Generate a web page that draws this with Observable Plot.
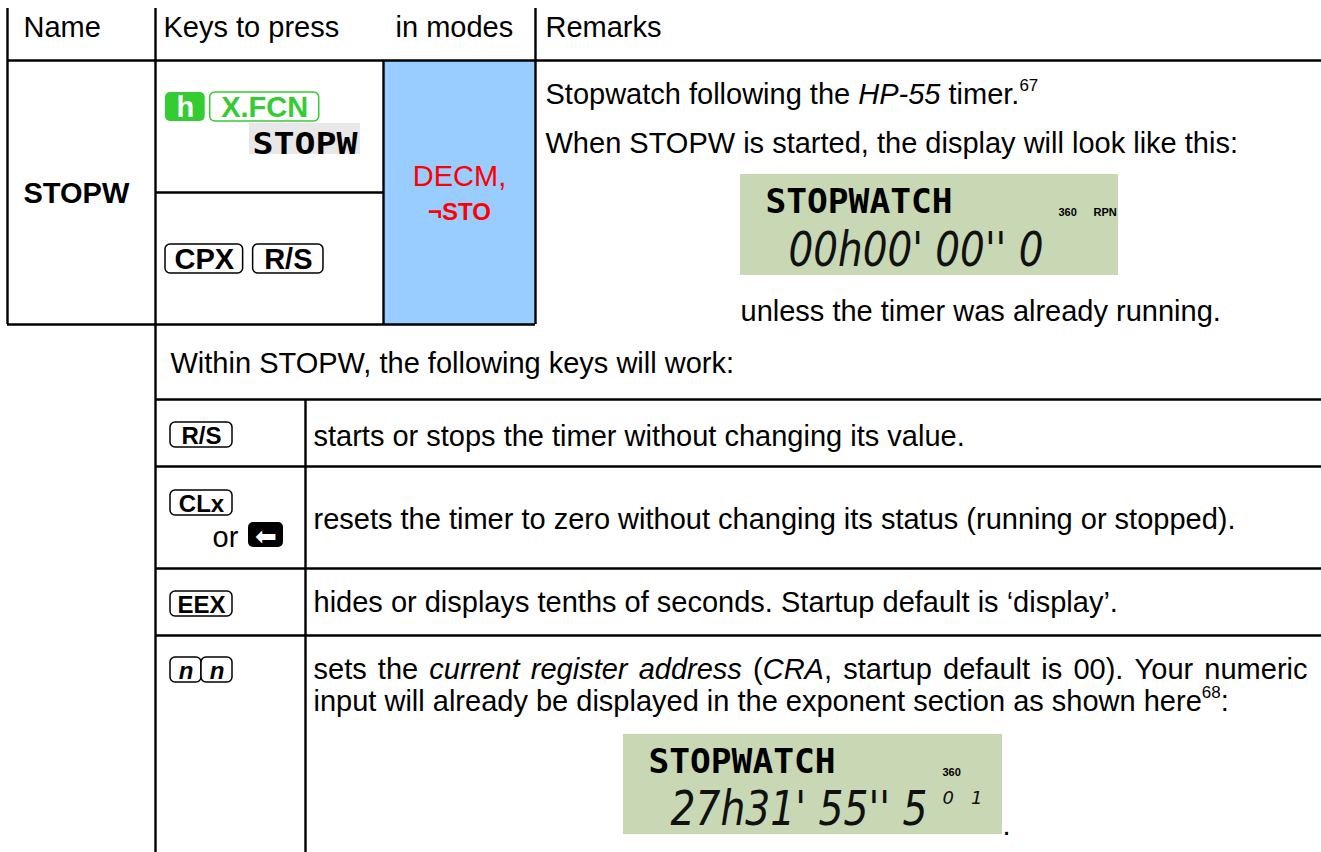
<!DOCTYPE html>
<html><head><meta charset="utf-8">
<script src="https://cdn.jsdelivr.net/npm/d3@7"></script>
<script src="https://cdn.jsdelivr.net/npm/@observablehq/plot@0.6"></script>
<style>
html,body{margin:0;padding:0;background:#fff;}
#chart{width:1321px;height:852px;overflow:hidden;}
</style>
</head><body><div id="chart"></div>
<script>
// ---------------- content ----------------
const headers = ["Name", "Keys to press", "in modes", "Remarks"];
const functionName = ["STOPW"];
const keyRow1 = ["h", "X.FCN"];
const keyRow1Menu = ["STOPW"];
const keyRow2 = ["CPX", "R/S"];
const modeLines = ["DECM,", "¬STO"];
const remarkRuns1 = [["Stopwatch following the ", "n"], ["HP-55", "i"], [" timer.", "n"], ["67", "sup"]];
const remarkLine2 = ["When STOPW is started, the display will look like this:"];
const remarkLine3 = ["unless the timer was already running."];
const lcd1Top = ["STOPWATCH"];
const lcd1Annunciators = ["360", "RPN"];
const lcd1Digits = ["00h00' 00'' 0"];
const withinLine = ["Within STOPW, the following keys will work:"];
const subKeys = ["R/S", "CLx", "EEX", "n"];
const subOr = ["or"];
const backspaceGlyph = ["⬅"];
const subLines = [
  "starts or stops the timer without changing its value.",
  "resets the timer to zero without changing its status (running or stopped).",
  "hides or displays tenths of seconds. Startup default is ‘display’."
];
const subRuns4a = [["sets the ", "n"], ["current register address", "i"], [" (", "n"], ["CRA", "i"], [", startup default is 00). Your numeric", "n"]];
const subRuns4b = [["input will already be displayed in the exponent section as shown here", "n"], ["68", "sup"], [":", "n"]];
const lcd2Top = ["STOPWATCH"];
const lcd2Annunciators = ["360"];
const lcd2Digits = ["27h31' 55'' 5"];
const lcd2Exponent = ["01"];

// ---------------- layout ----------------
const W = 1321, H = 852;
const SANS = "'Liberation Sans', Arial, Helvetica, sans-serif";
const DOT = "'DejaVu Sans Mono', monospace";
const SEG = "'DejaVu Sans', sans-serif";
const BASE = 29;
const GREEN = "#33cc33", RED = "#ff0000", BLUE = "#99ccff", LCD = "#c8d7b4";
const X = {left: 7, name: 155, modes: 383, remarks: 535, right: W, sub: 305};
const Y = {top: 8, head: 60, split: 192, rowEnd: 324, within: 399, r1: 466, r2: 568, r3: 635, bottom: H};

const ctx = document.createElement("canvas").getContext("2d");
function tw(str, size, weight = "normal", style = "normal", family = SANS) {
  ctx.font = `${style} ${weight} ${size}px ${family}`;
  return ctx.measureText(str).width;
}

const texts = [];
const rects = [];
const stretch = new Map(); // text -> {length, adjust, scaleY, y}
function T(o) {
  texts.push(Object.assign({size: BASE, weight: "normal", style: "normal", family: SANS, fill: "#000", anchor: "start"}, o));
  if (o.length || o.scaleY) stretch.set(o.text, {length: o.length, adjust: o.adjust || "spacingAndGlyphs", scaleY: o.scaleY, y: o.y});
}
function R(o) { rects.push(Object.assign({fill: "none", stroke: "none", sw: 0, rx: 0}, o)); }

function runs(rs, x0, y, size, justifyWidth) {
  const words = []; let cur = [];
  for (const [t, st] of rs) {
    for (const p of t.split(/( )/)) {
      if (p === " ") { if (cur.length) { words.push(cur); cur = []; } }
      else if (p) cur.push({t: p, st});
    }
  }
  if (cur.length) words.push(cur);
  const ps = p => p.st === "sup" ? Math.round(size * 0.6) : size;
  const pst = p => p.st === "i" ? "italic" : "normal";
  const pw = p => tw(p.t, ps(p), "normal", pst(p));
  const wordW = words.map(w => d3.sum(w, pw));
  let gap = tw(" ", size);
  if (justifyWidth) gap = (justifyWidth - d3.sum(wordW)) / (words.length - 1);
  let x = x0;
  words.forEach(w => {
    for (const p of w) {
      T({x, y: p.st === "sup" ? y - size * 0.42 : y, text: p.t, size: ps(p), style: pst(p)});
      x += pw(p);
    }
    x += gap;
  });
}

function key(label, x, y, h, size, opts = {}) {
  const {w = null, pad = 11, kind = "outline", color = "#000", style = "normal", family = SANS} = opts;
  const width = w ?? tw(label, size, "bold", style, family) + 2 * pad;
  if (kind === "filled") R({x1: x, x2: x + width, y1: y, y2: y + h, fill: color, rx: 5});
  else R({x1: x, x2: x + width, y1: y, y2: y + h, fill: "#fff", stroke: color, sw: 1.5, rx: 5});
  T({x: x + width / 2, y: y + h / 2 + size * 0.36, text: label, size, weight: "bold", style, family,
     fill: kind === "filled" ? "#fff" : color, anchor: "middle"});
  return x + width;
}

// header
const headX = [X.left + 16, X.name + 8, X.modes + 12, X.remarks + 10];
headers.forEach((h, i) => T({x: headX[i], y: 36, text: h}));

// name
T({x: X.left + 16, y: 202, text: functionName[0], weight: "bold"});

// keys row 1
let kx = key(keyRow1[0], X.name + 10, 92, 29, 29, {kind: "filled", color: GREEN, pad: 11});
key(keyRow1[1], kx + 5, 92, 29, 29, {color: GREEN, pad: 11});
{
  const mx = X.name + 94, mw = X.modes - 23 - mx;
  R({x1: mx, x2: mx + mw, y1: 123, y2: 154, fill: "#e8e8e8"});
  T({x: mx + mw / 2, y: 153, text: keyRow1Menu[0], size: 30, weight: "bold", family: DOT, anchor: "middle", length: mw - 6});
}
// keys row 2
kx = key(keyRow2[0], X.name + 10, 244, 29, 29, {pad: 9});
key(keyRow2[1], kx + 10, 244, 29, 29, {pad: 11});

// modes
R({x1: X.modes, x2: X.remarks, y1: Y.head, y2: Y.rowEnd, fill: BLUE});
const mc = (X.modes + X.remarks) / 2;
T({x: mc, y: 185, text: modeLines[0], fill: RED, anchor: "middle"});
T({x: mc, y: 219, text: modeLines[1], size: 24, weight: "bold", fill: RED, anchor: "middle"});

// remarks
runs(remarkRuns1, X.remarks + 10, 103, BASE);
T({x: X.remarks + 10, y: 152, text: remarkLine2[0]});
function lcd(x1, y1, x2, y2, top, ann, annX, digits, digitsX, digitsW, expo) {
  R({x1, x2, y1, y2, fill: LCD});
  T({x: x1 + 25, y: y1 + 38, text: top, size: 33, weight: "bold", family: DOT, length: 187});
  ann.forEach((a, i) => T({x: annX[i], y: y1 + 41, text: a, size: 11, weight: "bold"}));
  // size chosen so the natural width fits; then stretched vertically to the 7-segment height (35px)
  const ds = digitsW / tw(digits, 1, "normal", "oblique", SEG);
  T({x: digitsX, y: y2 - 10, text: digits, size: ds, style: "oblique", family: SEG, fill: "#111", scaleY: 35 / (0.729 * ds)});
  if (expo) T({x: x2 - 60, y: y1 + 69, text: expo, size: 18, style: "oblique", family: SEG, fill: "#111", length: 40, adjust: "spacing"});
}
lcd(740, 174, 1118, 275, lcd1Top[0], lcd1Annunciators, [1058, 1093], lcd1Digits[0], 788, 255, null);
T({x: 740, y: 320, text: remarkLine3[0]});

// lower section
T({x: X.name + 15, y: 372, text: withinLine[0]});
const KX = X.name + 15, KW = 62;
key(subKeys[0], KX, 422, 25, 24, {w: KW});
key(subKeys[1], KX, 490, 25, 24, {w: KW});
T({x: KX + 42, y: 546, text: subOr[0], anchor: "start"});
R({x1: KX + 78, x2: KX + 113, y1: 522, y2: 547, fill: "#000", rx: 5});
T({x: KX + 95.5, y: 544, text: backspaceGlyph[0], size: 26, family: SEG, fill: "#fff", anchor: "middle"});
key(subKeys[2], KX, 591, 25, 24, {w: KW});
key(subKeys[3], KX, 657, 25, 24, {w: 31, style: "italic"});
key(subKeys[3], KX + 31, 657, 25, 24, {w: 31, style: "italic"});

const DX = X.sub + 8;
T({x: DX, y: 445, text: subLines[0]});
T({x: DX, y: 528, text: subLines[1]});
T({x: DX, y: 611, text: subLines[2]});
runs(subRuns4a, DX, 678, BASE, 1307 - DX);
runs(subRuns4b, DX, 710, BASE);

lcd(623, 734, 1002, 834, lcd2Top[0], lcd2Annunciators, [942], lcd2Digits[0], 670, 257, lcd2Exponent[0]);
T({x: 1002, y: 834, text: "."});

// lines
const hLines = [
  {y: Y.head, x1: X.left, x2: X.right},
  {y: Y.split, x1: X.name, x2: X.modes},
  {y: Y.rowEnd, x1: X.left, x2: X.remarks},
  {y: Y.within, x1: X.name, x2: X.right},
  {y: Y.r1, x1: X.name, x2: X.right},
  {y: Y.r2, x1: X.name, x2: X.right},
  {y: Y.r3, x1: X.name, x2: X.right}
];
const vLines = [
  {x: X.left, y1: Y.top, y2: Y.rowEnd},
  {x: X.name, y1: Y.top, y2: Y.bottom},
  {x: X.modes, y1: Y.head, y2: Y.rowEnd},
  {x: X.remarks, y1: Y.top, y2: Y.rowEnd},
  {x: X.sub, y1: Y.within, y2: Y.bottom}
];

// ---------------- marks ----------------
const marks = [];
d3.groups(rects, r => [r.fill, r.stroke, r.sw, r.rx].join("|")).forEach(([k, g]) => {
  const r = g[0];
  marks.push(Plot.rect(g, {x1: "x1", x2: "x2", y1: "y1", y2: "y2", fill: r.fill, stroke: r.stroke, strokeWidth: r.sw, rx: r.rx, ry: r.rx}));
});
marks.push(Plot.ruleY(hLines, {y: "y", x1: "x1", x2: "x2", stroke: "#000", strokeWidth: 2.4}));
marks.push(Plot.ruleX(vLines, {x: "x", y1: "y1", y2: "y2", stroke: "#000", strokeWidth: 2.4}));
d3.groups(texts, t => [t.family, t.weight, t.style, t.fill, t.anchor].join("|")).forEach(([k, g]) => {
  const t = g[0];
  marks.push(Plot.text(g, {x: "x", y: "y", text: "text", fontSize: "size", fontFamily: t.family, fontWeight: t.weight,
    fontStyle: t.style, fill: t.fill, textAnchor: t.anchor, lineAnchor: "bottom"}));
});

const svg = Plot.plot({
  width: W, height: H, margin: 0,
  x: {domain: [0, W], range: [0, W], axis: null},
  y: {domain: [0, H], range: [0, H], axis: null},
  style: {background: "#fff", fontFamily: SANS},
  marks
});
document.getElementById("chart").appendChild(svg);
// LCD-style glyph runs: fit to measured widths / 7-segment height
svg.querySelectorAll("text").forEach(n => {
  const g = n.closest("g");
  const fam = (g && g.getAttribute("font-family")) || "";
  if (!fam.includes("DejaVu")) return;
  const s = stretch.get(n.textContent);
  if (!s) return;
  if (s.length) {
    n.setAttribute("textLength", s.length);
    n.setAttribute("lengthAdjust", s.adjust);
  }
  if (s.scaleY) {
    const prev = n.getAttribute("transform") || "";
    n.setAttribute("transform", `translate(0,${s.y}) scale(1,${s.scaleY}) translate(0,${-s.y}) ${prev}`.trim());
  }
});
</script>
</body></html>
